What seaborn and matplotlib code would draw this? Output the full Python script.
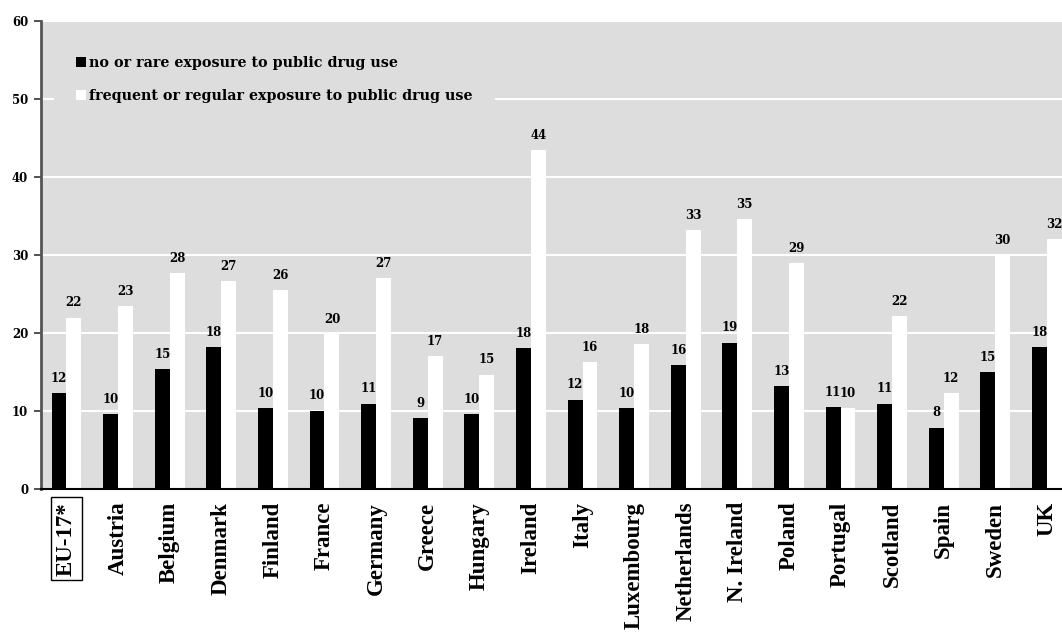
import numpy as np
import pandas as pd
import matplotlib
matplotlib.use('Agg')
import matplotlib.pyplot as plt
import seaborn as sns

# Données
countries = ['EU-17*', 'Austria', 'Belgium', 'Denmark', 'Finland', 'France', 'Germany',
             'Greece', 'Hungary', 'Ireland', 'Italy', 'Luxembourg', 'Netherlands',
             'N. Ireland', 'Poland', 'Portugal', 'Scotland', 'Spain', 'Sweden', 'UK']
rare = [12.3, 9.6, 15.4, 18.2, 10.4, 10.1, 11.0, 9.1, 9.6, 18.1,
        11.5, 10.4, 15.9, 18.8, 13.2, 10.5, 11.0, 7.9, 15.0, 18.2]
frequent = [22.0, 23.5, 27.7, 26.7, 25.5, 19.9, 27.1, 17.1, 14.7, 43.5,
            16.3, 18.6, 33.2, 34.6, 29.0, 10.4, 22.2, 12.3, 30.0, 32.1]
rare_labels = ['12', '10', '15', '18', '10', '10', '11', '9', '10', '18',
               '12', '10', '16', '19', '13', '11', '11', '8', '15', '18']
frequent_labels = ['22', '23', '28', '27', '26', '20', '27', '17', '15', '44',
                   '16', '18', '33', '35', '29', '10', '22', '12', '30', '32']
series = ['no or rare exposure to public drug use',
          'frequent or regular exposure to public drug use']
yticks = [0, 10, 20, 30, 40, 50, 60]

df = pd.DataFrame({
    'country': countries * 2,
    'value': rare + frequent,
    'group': [series[0]] * len(countries) + [series[1]] * len(countries),
})

sns.set_style('white')
plt.rcParams['font.family'] = ['DejaVu Serif']
plt.rcParams['text.color'] = 'black'
plt.rcParams['xtick.color'] = 'black'
plt.rcParams['ytick.color'] = 'black'
plt.rcParams['axes.labelcolor'] = 'black'

fig = plt.figure(figsize=(10.62, 6.34), dpi=100)
ax = fig.add_axes([0.0383, 0.2282, 0.9718, 0.7382])
ax.set_facecolor('#DDDDDD')

sns.barplot(data=df, x='country', y='value', hue='group', order=countries,
            hue_order=series, palette=['black', 'white'], width=0.58,
            saturation=1, linewidth=0, ax=ax)

# étiquettes des barres
for cont, labs in zip(ax.containers, [rare_labels, frequent_labels]):
    ax.bar_label(cont, labels=labs, padding=6, fontsize=8.5, fontweight='bold',
                 family='DejaVu Serif', color='black')

ax.set_ylim(0, 60)
ax.set_xlim(-0.5, len(countries) - 0.5)
ax.set_yticks(yticks)
ax.set_yticklabels([str(t) for t in yticks], fontsize=8.5, fontweight='bold')
ax.yaxis.grid(True, color='white', linewidth=1.5)
ax.set_axisbelow(True)

ax.set_xticks(range(len(countries)))
ax.set_xticklabels(countries, rotation=90, fontsize=16.5, fontweight='bold',
                   family='Liberation Serif')
ax.set_xticks(np.arange(-0.5, len(countries), 1), minor=True)
ax.tick_params(axis='x', which='major', length=0, pad=9)
ax.tick_params(axis='x', which='minor', length=6, width=1.2, color='#333333')
ax.tick_params(axis='y', length=5, width=1.2, color='#333333', pad=4, left=True)
ax.get_xticklabels()[0].set_bbox(dict(boxstyle='square,pad=0.2', fc='white',
                                      ec='black', lw=1))

ax.set_xlabel('')
ax.set_ylabel('')
for s in ['top', 'right']:
    ax.spines[s].set_visible(False)
ax.spines['left'].set_color('#555555')
ax.spines['left'].set_linewidth(2)
ax.spines['bottom'].set_color('black')
ax.spines['bottom'].set_linewidth(1.5)

leg = ax.legend(loc='upper left', bbox_to_anchor=(0.006, 0.988),
                prop={'weight': 'bold', 'size': 10.3}, frameon=True,
                facecolor='#DDDDDD', edgecolor='none', framealpha=1,
                handlelength=0.7, handleheight=0.7, handletextpad=0.2,
                labelspacing=1.3, borderpad=1.55, fancybox=False)

plt.savefig('out.png', dpi=100)
